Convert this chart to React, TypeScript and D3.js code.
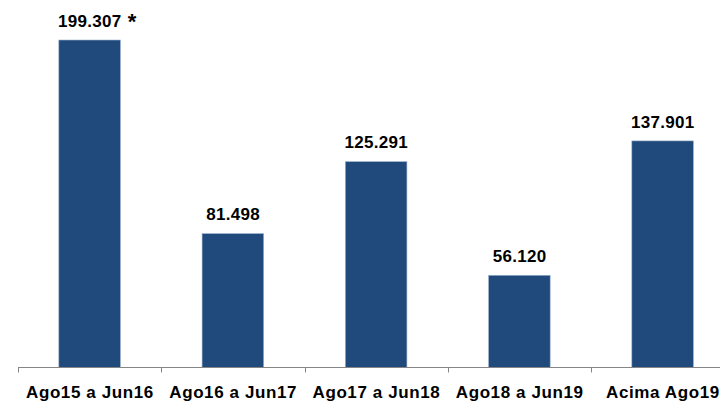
import React from "react";
import * as d3 from "d3";

const categories = ["Ago15 a Jun16", "Ago16 a Jun17", "Ago17 a Jun18", "Ago18 a Jun19", "Acima Ago19"];
const values = [199.307, 81.498, 125.291, 56.12, 137.901];
const valueLabels = ["199.307", "81.498", "125.291", "56.120", "137.901"];
const notes = ["*", "", "", "", ""];

export default function App() {
  const W = 720, H = 401;
  const left = 18, right = 734.25, baseY = 367.5;
  const x = d3.scaleBand<string>().domain(categories).range([left, right]).paddingInner(0.57).paddingOuter(0.285);
  const band = d3.scaleBand<string>().domain(categories).range([left, right]).padding(0);
  const y = d3.scaleLinear().domain([0, 199.307]).range([baseY, 40]);
  const font = "'Liberation Sans', Arial, sans-serif";
  const ticks = categories.map((c) => band(c)!).concat([right]);
  return (
    <svg width={W} height={H} style={{ position: "absolute", left: 0, top: 0, background: "#fff" }}>
      {categories.map((c, i) => (
        <g key={c}>
          <rect x={x(c)} y={y(values[i])} width={x.bandwidth()} height={baseY - y(values[i])} fill="#214A7C" stroke="#9DB3D0" strokeWidth={0.6} />
          <text x={x(c)! + x.bandwidth() / 2 + 0.15} y={y(values[i]) - 13.3} textAnchor="middle" fontFamily={font} fontWeight="bold" fontSize={17} letterSpacing={0.3} fill="#000">{valueLabels[i]}</text>
          {notes[i] && (
            <text x={x(c)! + x.bandwidth() / 2 + 38} y={y(values[i]) - 11} textAnchor="start" fontFamily={font} fontWeight="bold" fontSize={22} fill="#000">{notes[i]}</text>
          )}
          <text x={band(c)! + band.bandwidth() / 2 + 0.3} y={397.5} textAnchor="middle" fontFamily={font} fontWeight="bold" fontSize={17} letterSpacing={0.6} fill="#000">{c}</text>
        </g>
      ))}
      <line x1={left} x2={W} y1={baseY} y2={baseY} stroke="#868686" strokeWidth={1} />
      {ticks.map((t, i) => (
        <line key={i} x1={Math.round(t) + 0.5} x2={Math.round(t) + 0.5} y1={baseY} y2={baseY + 5} stroke="#868686" strokeWidth={1} />
      ))}
    </svg>
  );
}
